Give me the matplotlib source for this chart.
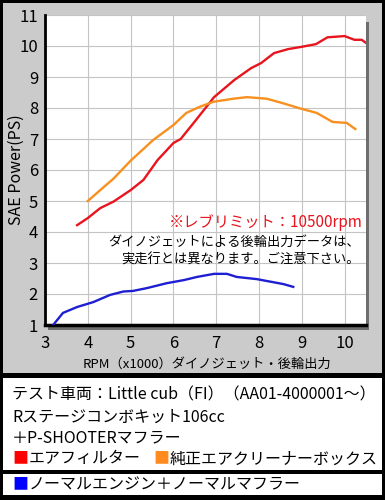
import matplotlib.pyplot as plt
from matplotlib.patches import Rectangle
import numpy as np

plt.rcParams['font.family'] = ['Noto Sans CJK JP', 'DejaVu Sans']

# dyno data (rpm x1000, PS)
red_rpm = [3.75, 4.0, 4.29, 4.6, 5.0, 5.3, 5.63, 6.0, 6.17, 6.52, 6.95, 7.42, 7.82, 8.05,
           8.35, 8.68, 8.98, 9.33, 9.6, 10.0, 10.23, 10.4, 10.5]
red_ps = [4.22, 4.45, 4.77, 4.98, 5.35, 5.68, 6.32, 6.87, 7.0, 7.6, 8.35, 8.9, 9.29, 9.45,
          9.77, 9.9, 9.97, 10.06, 10.28, 10.32, 10.2, 10.2, 10.1]
orange_rpm = [4.0, 4.29, 4.6, 5.0, 5.53, 6.0, 6.3, 6.6, 6.93, 7.4, 7.72, 8.18, 8.57,
              8.95, 9.35, 9.72, 10.05, 10.25]
orange_ps = [5.0, 5.35, 5.72, 6.3, 6.97, 7.45, 7.84, 8.03, 8.2, 8.3, 8.35, 8.3, 8.15,
             7.99, 7.84, 7.55, 7.52, 7.32]
blue_rpm = [3.19, 3.42, 3.75, 4.13, 4.52, 4.83, 5.06, 5.38, 5.85, 6.25, 6.55, 6.95,
            7.25, 7.48, 7.95, 8.18, 8.57, 8.8]
blue_ps = [1.0, 1.39, 1.58, 1.74, 1.97, 2.08, 2.1, 2.19, 2.35, 2.45, 2.55, 2.65,
           2.65, 2.55, 2.48, 2.42, 2.32, 2.23]

x_ticks = [3, 4, 5, 6, 7, 8, 9, 10]
y_ticks = [1, 2, 3, 4, 5, 6, 7, 8, 9, 10, 11]

W, H = 385, 500
fig = plt.figure(figsize=(W / 100, H / 100), dpi=100, facecolor='black')


def box(x0, y0, x1, y1, color, z=0):
    # rectangle in pixel coords (y from top)
    fig.patches.append(Rectangle((x0 / W, 1 - y1 / H), (x1 - x0) / W, (y1 - y0) / H,
                                 transform=fig.transFigure, facecolor=color,
                                 edgecolor='none', zorder=z))


box(3, 3, 382, 373, '#cbcbcb', z=-3)
box(3, 378, 382, 470, 'white', z=-3)
box(3, 474, 382, 495, 'white', z=-3)
# shadow of the plot box
box(48, 22, 369, 330, '#6e6e6e', z=-2)

ax = fig.add_axes([45 / W, 1 - 325 / H, (366 - 45) / W, (325 - 15) / H])
ax.set_zorder(5)
ax.set_facecolor('white')

ax.plot(red_rpm, red_ps, color='#e8141e', lw=1.7, zorder=3)
ax.plot(orange_rpm, orange_ps, color='#f7901e', lw=1.7, zorder=3)
ax.plot(blue_rpm, blue_ps, color='#1e1ed2', lw=1.7, zorder=3)

ax.set_xlim(3, 10.5)
ax.set_ylim(1, 11)
ax.set_xticks(x_ticks)
ax.set_yticks(y_ticks)
# light grid (dotted in the original)
ax.grid(True, color='#c4c4c4', linestyle='-', lw=0.8)
ax.set_axisbelow(True)
ax.tick_params(length=0, labelsize=12, pad=5)
ax.tick_params(axis='x', pad=7)
for s in ['top', 'right']:
    ax.spines[s].set_visible(False)
ax.spines['left'].set_linewidth(2)
ax.spines['bottom'].set_linewidth(2.5)

ax.set_xlabel('RPM（x1000）ダイノジェット・後輪出力', fontsize=9.5)
ax.set_ylabel('SAE Power(PS)', fontsize=11.5)
ax.xaxis.set_label_coords(0.505, -0.125)
ax.yaxis.set_label_coords(-0.09, 0.5)
ax.xaxis.label.set_va('center')
ax.yaxis.label.set_va('center')

ax.text(10.42, 4.3, '※レブリミット：10500rpm', color='#e8141e', fontsize=11,
        ha='right', va='center')
ax.text(10.35, 3.38, 'ダイノジェットによる後輪出力データは、\n実走行とは異なります。ご注意下さい。',
        fontsize=9.5, ha='right', va='center', linespacing=1.5)

fs = 11.5
fig.text(12 / W, 1 - 395 / H, 'テスト車両：Little cub（FI）（AA01-4000001～）', fontsize=fs, va='center')
fig.text(12 / W, 1 - 417 / H, 'Rステージコンボキット106cc', fontsize=fs, va='center')
fig.text(12 / W, 1 - 438 / H, '＋P-SHOOTERマフラー', fontsize=fs, va='center')
fig.text(12 / W, 1 - 459 / H, '■', color='#ff0000', fontsize=fs, va='center')
fig.text(29 / W, 1 - 459 / H, 'エアフィルター', fontsize=fs, va='center')
fig.text(153 / W, 1 - 459 / H, '■', color='#ff8a1e', fontsize=fs, va='center')
fig.text(170 / W, 1 - 459 / H, '純正エアクリーナーボックス', fontsize=fs, va='center')
fig.text(12 / W, 1 - 485 / H, '■', color='#0000ff', fontsize=fs, va='center')
fig.text(29 / W, 1 - 485 / H, 'ノーマルエンジン＋ノーマルマフラー', fontsize=fs, va='center')

fig.savefig('out.png', dpi=100, facecolor='black')
